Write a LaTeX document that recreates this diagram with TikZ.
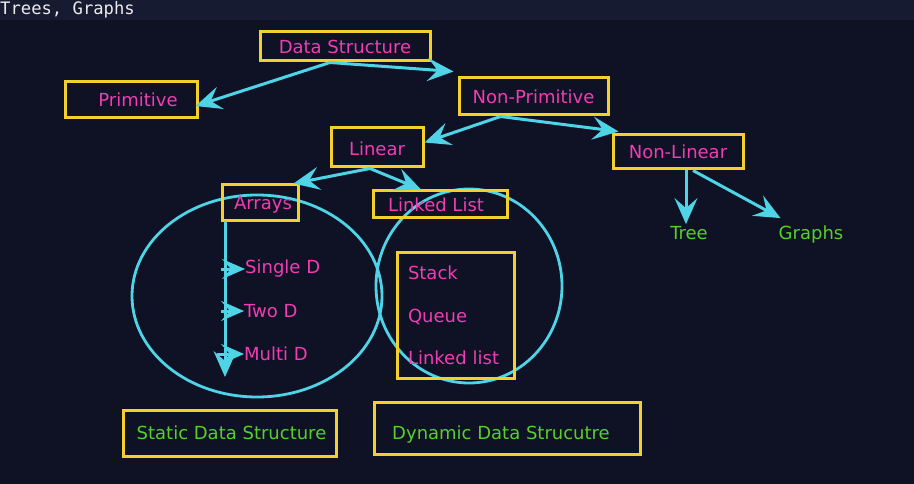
\documentclass[tikz,border=0pt]{standalone}
\usepackage{fontspec}
\setmainfont{DejaVu Sans}
\setmonofont{DejaVu Sans Mono}
\usetikzlibrary{positioning, arrows.meta}

\definecolor{bgnavy}{HTML}{0F1124}
\definecolor{barnavy}{HTML}{171B31}
\definecolor{pencyan}{HTML}{4FD3E6}
\definecolor{boxyellow}{HTML}{F3D02B}
\definecolor{txtpink}{HTML}{F03DB4}
\definecolor{txtgreen}{HTML}{55D02C}

\begin{document}
\begin{tikzpicture}[x=1pt, y=-1pt,
    font=\fontsize{18}{20}\selectfont,
    ybox/.style={draw=boxyellow, line width=3pt, inner sep=0pt, text=txtpink},
    gbox/.style={ybox, text=txtgreen},
    leaf/.style={text=txtgreen, inner sep=2pt},
    item/.style={text=txtpink, anchor=west, inner sep=0pt},
    arr/.style={draw=pencyan, line width=3pt,
        -{Stealth[length=26pt, width=23pt, inset=10pt]}},
    sarr/.style={arr, -{Stealth[length=23pt, width=20pt, inset=9pt]}},
    ring/.style={draw=pencyan, line width=2.8pt}]
\fill[bgnavy] (0,0) rectangle (914,484);
\fill[barnavy] (0,0) rectangle (914,20);
\node[anchor=west, inner sep=0pt, text=white!92!black,
    font=\ttfamily\fontsize{17.2}{20}\selectfont] (title) at (0,10) {Trees, Graphs};

\draw[ring] (257,296) ellipse [x radius=125, y radius=101];
\draw[ring] (469,286) ellipse [x radius=93, y radius=97];

\node[ybox, minimum width=170, minimum height=29] (ds) at (345,46.5) {Data Structure};
\node[ybox, minimum width=132, minimum height=36] (prim) at (131,100) {\hspace{14pt}Primitive};
\node[ybox, minimum width=149, minimum height=37] (nonprim) at (533.5,96.5) {Non-Primitive};
\node[ybox, minimum width=92, minimum height=39] (linear) at (377,147.5) {\raisebox{-8pt}[0pt][0pt]{Linear}};
\node[ybox, minimum width=130, minimum height=34] (nonlin) at (678,152) {Non-Linear};
\node[ybox, minimum width=76, minimum height=36] (arrays) at (260,203) {\hspace{6pt}\raisebox{-7pt}[0pt][0pt]{Arrays}};
\node[ybox, minimum width=134, minimum height=27] (llist) at (440,204.5) {\raisebox{-7.5pt}[0pt][0pt]{Linked List}\hspace{8pt}\null};
\node[ybox, minimum width=117, minimum height=125, align=left, text width=95,
    inner xsep=11pt, font=\fontsize{18}{42.5}\selectfont] (dyn) at (455.5,315.5)
    {Stack\\Queue\\Linked list};
\node[gbox, minimum width=213, minimum height=46] (static) at (229.5,433) {\hspace{4pt}Static Data Structure};
\node[gbox, minimum width=266, minimum height=52] (dynamic) at (507,428) {\raisebox{-11pt}[0pt][0pt]{Dynamic Data Strucutre}\hspace{12pt}\null};

\node[leaf] (tree) at (689,233) {Tree};
\node[leaf] (graphs) at (811,235) {Graphs};

\node[item] (singled) at (245,269) {Single D};
\node[item] (twod) at (244,311) {Two D};
\node[item] (multid) at (244,354) {Multi D};
\coordinate (spine) at (225,221);
\coordinate (spineend) at (225,377);

\draw[arr] ([xshift=-15]ds.south) -- ([shift={(-3,6)}]prim.east);
\draw[arr] ([xshift=-15]ds.south) -- ([shift={(-4,-5)}]nonprim.north west);
\draw[arr] ([xshift=-33]nonprim.south) -- ([yshift=5]linear.east);
\draw[arr] ([xshift=-33]nonprim.south) -- ([shift={(7,-2)}]nonlin.north west);
\draw[arr] ([xshift=-7]linear.south) -- ([xshift=-6]arrays.north east);
\draw[arr] ([xshift=-7]linear.south) -- ([xshift=-19]llist.north);
\draw[arr] ([xshift=8]nonlin.south) -- ([xshift=-3]tree.north);
\draw[arr] ([xshift=15]nonlin.south) -- ([shift={(4,-6)}]graphs.north west);
\draw[arr] (spine) -- (spineend);
\draw[sarr] ([xshift=-4]spine |- singled.west) -- (singled.west);
\draw[sarr] ([xshift=-4]spine |- twod.west) -- (twod.west);
\draw[sarr] ([xshift=-8]spine |- multid.west) -- (multid.west);
\end{tikzpicture}
\end{document}
